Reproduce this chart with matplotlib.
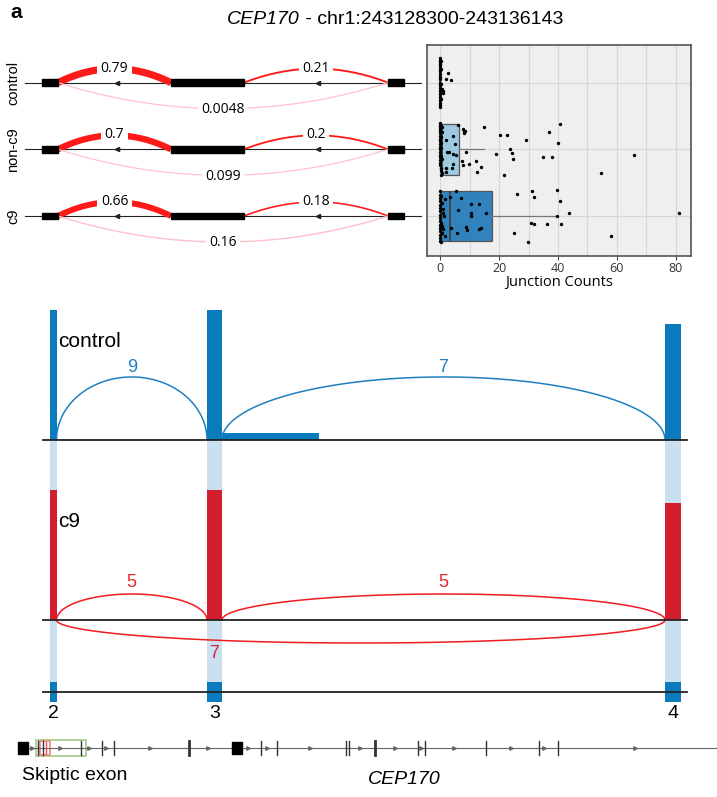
import numpy as np
import matplotlib.pyplot as plt
from matplotlib.patches import Rectangle

plt.rcParams['font.family'] = ['Liberation Sans', 'DejaVu Sans']

W, H = 717, 797

# ---- mini sashimi (PSI per sample) ----
samples = ['control', 'non-c9', 'c9']
psi_left = [0.79, 0.7, 0.66]
psi_right = [0.21, 0.2, 0.18]
psi_skip = [0.0048, 0.099, 0.16]
mini_exon_start = [42, 171, 388]
mini_exon_end = [58, 244, 404]

# ---- junction counts per sample (value, jitter) ----
ctrl_counts = [0, 0, 0, 0, 0, 0, 0, 0, 0, 0, 0, 0, 0, 0, 0, 0, 0, 0, 0, 0,
               0.2, 0.1, 0.4, 0.6, 0.9, 0.4, 2.0, 2.8, 3.8, 1.0]
ctrl_jitter = [-0.37, -0.34, -0.31, -0.28, -0.25, -0.21, -0.17, -0.13, -0.09, -0.05,
               0.0, 0.04, 0.08, 0.12, 0.17, 0.21, 0.26, 0.3, 0.34, 0.37,
               -0.33, 0.24, 0.02, 0.1, 0.15, -0.2, -0.06, -0.15, -0.04, 0.12]

non_counts = [0, 0, 0, 0, 0, 0, 0, 0, 0, 0, 0, 0, 0, 0, 0, 0, 0, 0,
              0.2, 0.3, 0.5, 0.4, 0.6, 0.1, 0.3, 0.7, 0.2, 0.5, 0.1, 0.4,
              6.0, 1.9, 4.4, 4.9, 2.4, 2.9, 4.4, 5.5, 2.1, 4.1, 4.2, 1.8,
              7.8, 8.2, 8.0, 8.4, 14.8, 8.9, 7.3, 7.8, 9.7, 12.3, 13.9, 12.5,
              19.0, 20.2, 22.7, 21.7, 23.8, 24.5, 24.7, 29.2, 34.9, 38.1,
              36.8, 40.7, 40.1, 54.5, 65.8]
non_jitter = [-0.39, -0.36, -0.33, -0.3, -0.27, -0.24, -0.2, -0.16, -0.12, -0.08,
              -0.04, 0.0, 0.04, 0.08, 0.12, 0.16, 0.2, 0.24,
              0.28, 0.32, 0.36, 0.39, -0.34, -0.18, -0.02, 0.14, 0.3, -0.26, 0.1, -0.1,
              -0.37, -0.14, -0.2, -0.08, 0.04, 0.04, 0.07, 0.09, 0.28, 0.28, 0.22, 0.34,
              -0.3, -0.27, -0.25, -0.28, -0.33, 0.04, 0.17, 0.24, 0.22, 0.17, 0.26, 0.34,
              0.07, -0.21, -0.21, 0.39, 0.0, 0.06, 0.14, -0.14, 0.11, 0.12,
              -0.26, -0.38, -0.1, 0.36, 0.09]

c9_counts = [0, 0, 0, 0, 0, 0, 0, 0, 0, 0, 0, 0, 0, 0, 0, 0,
             0.3, 0.6, 0.9, 1.2, 0.4, 0.8, 1.5, 0.2, 1.0, 0.5, 1.7, 0.7,
             5.3, 3.3, 7.1, 6.1, 10.3, 13.1, 10.3, 10.3, 15.4, 3.5, 8.9, 9.2,
             13.7, 13.3, 5.8,
             26.1, 31.2, 32.0, 30.8, 32.0, 36.3, 25.0, 29.7, 39.8, 39.8,
             40.7, 43.8, 40.9, 57.9, 81.1]
c9_jitter = [-0.37, -0.32, -0.27, -0.22, -0.17, -0.12, -0.07, -0.02, 0.03, 0.08,
             0.13, 0.18, 0.23, 0.28, 0.33, 0.38,
             -0.3, -0.2, -0.1, 0.0, 0.1, 0.2, 0.3, 0.39, -0.05, 0.15, -0.25, 0.26,
             -0.37, -0.28, -0.27, -0.09, -0.18, -0.18, -0.04, 0.0, -0.04, 0.18, 0.17, 0.21,
             0.18, 0.2, 0.25,
             -0.33, -0.37, -0.29, 0.11, 0.12, 0.12, 0.26, 0.39, -0.39, 0.0,
             -0.23, -0.05, 0.12, 0.30, -0.05]

box_q1 = [0, 0.2, 0]
box_med = [0, 0.6, 3.2]
box_q3 = [0, 6.3, 17.6]
box_lo = [0, 0, 0]
box_hi = [0, 14.8, 39.8]

# ---- sashimi (exons 2-4) ----
exon_ids = ['2', '3', '4']
exon_start = [50, 207, 665]
exon_end = [56.5, 222, 681]
ctrl_cov = [1.0, 1.0, 0.89]
ctrl_extra = (222, 319, 0.054)
c9_cov = [1.0, 1.0, 0.9]
ctrl_jx_a = [0, 1]
ctrl_jx_b = [1, 2]
ctrl_jx_n = [9, 7]
c9_jx_a = [0, 1, 0]
c9_jx_b = [1, 2, 2]
c9_jx_n = [5, 5, 7]

# ---- gene model ----
gene_big_exons = [18, 232]
gene_ticks = [37.7, 43.3, 81, 101.7, 114.3, 189, 260.7, 276.7, 346.3, 349,
              375, 418, 425, 486, 539, 557.5]
gene_thick = [189, 375]
gene_arrows = [32, 60, 89, 106, 150, 208, 248, 267, 310, 360, 395, 421,
               454, 510.5, 544, 635]

BLUE = '#0a7bbd'
RED = '#d21e2e'
ARC_RED = '#f01c22'

fig = plt.figure(figsize=(7.17, 7.97), dpi=100)


def px_axes(x0, y0, x1, y1):
    return fig.add_axes([x0 / W, 1 - y1 / H, (x1 - x0) / W, (y1 - y0) / H])


fig.text(10 / W, 1 - 13 / H, 'a', fontsize=15, fontweight='bold', va='center')
fig.text(300 / W, 1 - 20 / H, 'CEP170', style='italic', fontsize=14,
         ha='right', va='center')
fig.text(300 / W, 1 - 20 / H, ' - chr1:243128300-243136143', fontsize=14,
         ha='left', va='center')

# mini sashimi
ax_s = px_axes(0, 45, 422, 256)
ax_s.set_xlim(0, 422)
ax_s.set_ylim(2.6, -0.565)
ax_s.axis('off')


def para_arc(ax, x0, x1, base, h, **kw):
    x = np.linspace(x0, x1, 120)
    t = (x - x0) / (x1 - x0)
    ax.plot(x, base + h * 4 * t * (1 - t), solid_capstyle='butt', **kw)


for i, name in enumerate(samples):
    ax_s.plot([25, 421], [i, i], color='#222', lw=0.8, zorder=1)
    for s, e in zip(mini_exon_start, mini_exon_end):
        ax_s.add_patch(Rectangle((s, i - 0.05), e - s, 0.1, color='black', zorder=3))
    ax_s.plot([117, 318], [i, i], ls='none', marker='<', ms=3, color='#222')
    arcs = [(mini_exon_end[0], mini_exon_start[1], -0.21, psi_left[i], '#ff1a1a'),
            (mini_exon_end[1], mini_exon_start[2], -0.21, psi_right[i], '#ff1a1a'),
            (mini_exon_end[0], mini_exon_start[2], 0.39, psi_skip[i], '#ffc2cb')]
    for a, b, h, psi, col in arcs:
        para_arc(ax_s, a, b, i, h, color=col, lw=max(0.9, 6.5 * psi), zorder=2)
        ax_s.text((a + b) / 2, i + h * 1.03, str(psi), ha='center', va='center',
                  fontsize=10, family=['Open Sans', 'DejaVu Sans'], zorder=4,
                  bbox=dict(fc='white', ec='none', pad=2.5))
    ax_s.text(13, i, name, rotation=90, ha='center', va='center', fontsize=10.5)

# junction count box/strip plot
ax_b = px_axes(427, 45, 691, 256)
ax_b.set_facecolor('#efefef')
stats = [dict(med=m, q1=a, q3=b, whislo=lo, whishi=hi, fliers=[])
         for m, a, b, lo, hi in zip(box_med, box_q1, box_q3, box_lo, box_hi)]
bp = ax_b.bxp(stats, positions=[0, 1, 2], vert=False, widths=0.76,
              patch_artist=True, showcaps=False,
              boxprops=dict(edgecolor='#555', lw=0.9),
              whiskerprops=dict(color='#777', lw=0.9),
              medianprops=dict(color='#444', lw=1.3))
for patch, fc in zip(bp['boxes'], ['white', '#9ecae1', '#3182bd']):
    patch.set_facecolor(fc)
for k, (vals, jit) in enumerate([(ctrl_counts, ctrl_jitter),
                                 (non_counts, non_jitter),
                                 (c9_counts, c9_jitter)]):
    ax_b.scatter(vals, k + np.array(jit), s=6, color='black', lw=0, zorder=4)
ax_b.set_xlim(-4.5, 85.2)
ax_b.set_ylim(2.6, -0.565)
ax_b.set_xticks([0, 20, 40, 60, 80])
ax_b.set_xticks([10, 30, 50, 70], minor=True)
ax_b.set_yticks([0, 1, 2])
ax_b.grid(which='both', color='#d7d7d7', lw=0.8)
ax_b.set_axisbelow(True)
ax_b.tick_params(axis='y', length=0, labelleft=False)
ax_b.tick_params(axis='x', which='minor', length=0)
ax_b.tick_params(axis='x', length=3, color='#444', labelsize=9, labelcolor='#333', pad=1)
for lab in ax_b.get_xticklabels():
    lab.set_family(['Open Sans', 'DejaVu Sans'])
for sp in ax_b.spines.values():
    sp.set_color('#555')
    sp.set_linewidth(1.2)
ax_b.set_xlabel('Junction Counts', fontsize=10.5, labelpad=0,
                family=['Open Sans', 'DejaVu Sans'])

# light blue exon bands behind the tracks
ax_bg = px_axes(0, 440, 717, 683)
ax_bg.set_xlim(0, 717)
ax_bg.set_ylim(0, 1)
ax_bg.axis('off')
ax_bg.bar(exon_start, 1, width=np.subtract(exon_end, exon_start), align='edge',
          color='#cadff0', lw=0)


def ell_arc(ax, x0, x1, h, **kw):
    t = np.linspace(0, np.pi, 200)
    xc, a = (x0 + x1) / 2, (x1 - x0) / 2
    ax.plot(xc - a * np.cos(t), h * np.sin(t), **kw)


# control track
ax_c = px_axes(0, 300, 717, 440)
ax_c.set_xlim(0, 717)
ax_c.set_ylim(0, 140 / 130)
ax_c.axis('off')
ax_c.bar(exon_start, ctrl_cov, width=np.subtract(exon_end, exon_start),
         align='edge', color=BLUE, lw=0)
ax_c.bar(ctrl_extra[0], ctrl_extra[2], width=ctrl_extra[1] - ctrl_extra[0],
         align='edge', color=BLUE, lw=0)
for a, b, n in zip(ctrl_jx_a, ctrl_jx_b, ctrl_jx_n):
    ell_arc(ax_c, exon_end[a], exon_start[b], 0.485, color='#1f80c0', lw=1.1)
    ax_c.text((exon_end[a] + exon_start[b]) / 2, 0.555, str(n), color='#1f80c0',
              fontsize=13, ha='center', va='center')
ax_c.plot([43, 687], [0, 0], color='#222', lw=1.3, clip_on=False)
ax_c.text(58, 0.754, 'control', fontsize=15, ha='left', va='center')

# c9 track
ax_9 = px_axes(0, 470, 717, 670)
ax_9.set_xlim(0, 717)
ax_9.set_ylim(-50 / 130, 150 / 130)
ax_9.axis('off')
ax_9.bar(exon_start, c9_cov, width=np.subtract(exon_end, exon_start),
         align='edge', color=RED, lw=0)
for a, b, n in zip(c9_jx_a, c9_jx_b, c9_jx_n):
    if b - a == 1:
        ell_arc(ax_9, exon_end[a], exon_start[b], 0.2, color=ARC_RED, lw=1.1)
        ax_9.text((exon_end[a] + exon_start[b]) / 2, 0.285, str(n), color='#e8262b',
                  fontsize=13, ha='center', va='center')
    else:
        ell_arc(ax_9, exon_end[a], exon_start[b], -0.177, color=ARC_RED, lw=1.1)
        ax_9.text((exon_start[a + 1] + exon_end[a + 1]) / 2, -0.254, str(n),
                  color='#c8283c', fontsize=13, ha='center', va='center')
ax_9.plot([43, 687], [0, 0], color='#222', lw=1.3)
ax_9.text(58, 0.754, 'c9', fontsize=15, ha='left', va='center')

# exon track
ax_e = px_axes(0, 672, 717, 712)
ax_e.set_xlim(0, 717)
ax_e.set_ylim(-1, 1)
ax_e.axis('off')
ax_e.plot([43, 687], [0, 0], color='#222', lw=1.3)
ax_e.bar(exon_start, 1, bottom=-0.5, width=np.subtract(exon_end, exon_start),
         align='edge', color=BLUE, lw=0)
for s, e, lab in zip(exon_start, exon_end, exon_ids):
    ax_e.text((s + e) / 2, -1.05, lab, fontsize=14, ha='center', va='center')

# gene model
ax_g = px_axes(0, 738, 717, 758)
ax_g.set_xlim(0, 717)
ax_g.set_ylim(-1, 1)
ax_g.axis('off')
ax_g.plot([gene_big_exons[0], 717], [0, 0], color='#666', lw=0.8, clip_on=False)
for x in gene_big_exons:
    ax_g.add_patch(Rectangle((x, -0.6), 10, 1.2, color='black', zorder=3))
for x in gene_ticks:
    ax_g.plot([x, x], [-0.7, 0.7], color='#333', lw=2.0 if x in gene_thick else 1.0)
ax_g.plot(gene_arrows, np.zeros(len(gene_arrows)), ls='none', marker='>', ms=2.5,
          color='#666')
ax_g.add_patch(Rectangle((36, -0.8), 50, 1.6, fill=False, ec='#a9d18e', lw=1.3))
ax_g.add_patch(Rectangle((40, -0.7), 10, 1.4, fill=False, ec='#f4877f', lw=1.2))
ax_g.plot([46, 46], [-0.6, 0.6], color='#e8525a', lw=1.0)
fig.text(22 / W, 1 - 775 / H, 'Skiptic exon', fontsize=14, ha='left', va='center')
fig.text(404 / W, 1 - 779 / H, 'CEP170', style='italic', fontsize=14,
         ha='center', va='center')

fig.savefig('out.png', dpi=100)
